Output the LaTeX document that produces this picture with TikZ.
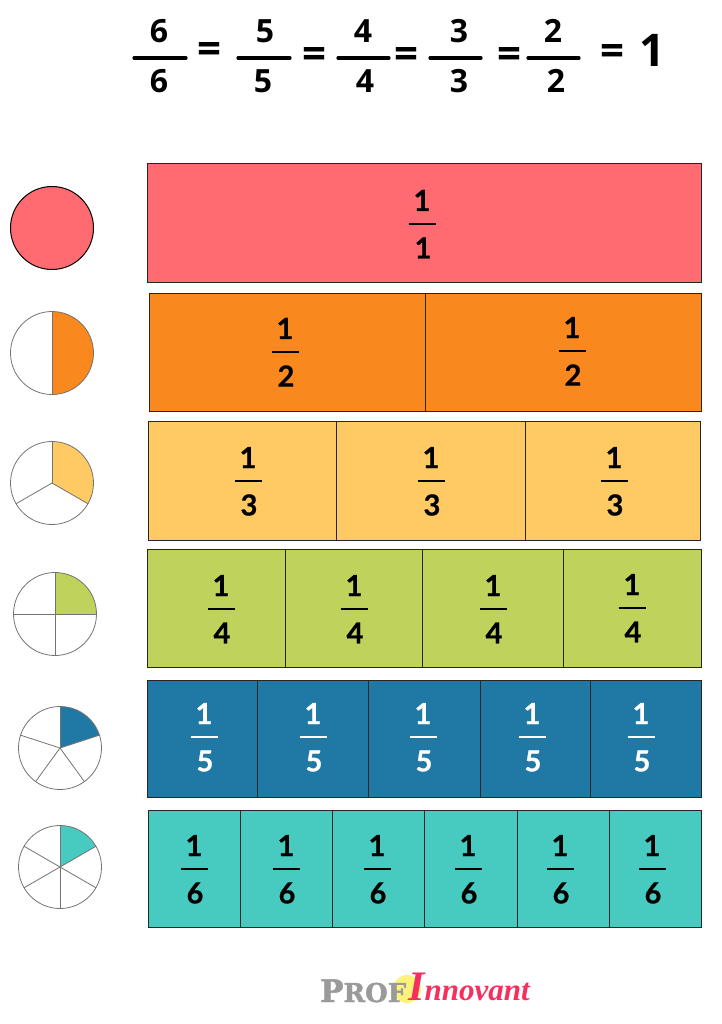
\documentclass[tikz,border=0pt]{standalone}
\usepackage{fontspec}
\setmainfont{Open Sans}
\newfontfamily\cellfont[BoldFeatures={FakeBold=0.7}]{Lato}
\newfontfamily\logosans[BoldFeatures={FakeBold=1.5}]{DejaVu Serif}
\newfontfamily\logoital{Liberation Serif}
\definecolor{redfill}{HTML}{FF6B70}
\definecolor{orangefill}{HTML}{F9881F}
\definecolor{yellowfill}{HTML}{FFC963}
\definecolor{greenfill}{HTML}{BFD25B}
\definecolor{bluefill}{HTML}{2079A4}
\definecolor{tealfill}{HTML}{47CBC1}
\definecolor{logogray}{HTML}{9A9A9A}
\definecolor{logored}{HTML}{F5305F}
\definecolor{logoyellow}{HTML}{FFF27A}
\tikzset{
  cellbox/.style={draw=black!85, line width=1pt},
  pieline/.style={draw=black!55, line width=0.8pt},
  digit/.style={font=\cellfont\fontsize{29}{32}\bfseries\selectfont, inner sep=0pt},
  bigdigit/.style={font=\fontsize{32}{36}\bfseries\selectfont, inner sep=0pt},
  eqsign/.style={font=\fontsize{42}{46}\bfseries\selectfont, inner sep=0pt},
  fracbar/.style={line width=2pt},
  topbar/.style={line width=3.2pt, line cap=round},
}
\begin{document}
\begin{tikzpicture}[x=1pt, y=-1pt]
    \useasboundingbox (0,0) rectangle (721,1024);

    % header
    \foreach \x/\xd/\xa/\xb/\d/\i in {159/159/134/186/6/a, 265/263/238/290/5/b, 363/365/338/389/4/c, 459/459/430/481/3/d, 553/556/528/579/2/e} {
      \node[bigdigit] (top\i) at (\x,31) {\d};
      \node[bigdigit] (bot\i) at (\xd,81) {\d};
      \draw[topbar] (\xa,58) -- (\xb,58);
    }
    \foreach \x/\y/\i in {209/53/a, 314/58/b, 406/58/c, 509/58/d, 612/55/e} {
      \node[eqsign] (eq\i) at (\x,\y) {=};
    }
    \node[font=\fontsize{45}{48}\bfseries\selectfont, inner sep=0pt] (one) at (652,50) {1};

    % bars
    \foreach \xa/\xb/\ya/\yb/\col in {147/701/164/282/redfill,
      149/425/293/411/orangefill, 425/701/293/411/orangefill,
      148/336/421/540/yellowfill, 336/525/421/540/yellowfill, 525/700/421/540/yellowfill,
      147/285/549/667/greenfill, 285/422/549/667/greenfill, 422/563/549/667/greenfill, 563/701/549/667/greenfill,
      147/257/680/797/bluefill, 257/368/680/797/bluefill, 368/480/680/797/bluefill, 480/590/680/797/bluefill, 590/701/680/797/bluefill,
      148/240/810/927/tealfill, 240/332/810/927/tealfill, 332/424/810/927/tealfill, 424/517/810/927/tealfill, 517/609/810/927/tealfill, 609/701/810/927/tealfill} {
      \draw[cellbox, fill=\col] (\xa,\ya) rectangle (\xb,\yb);
    }

    % fractions
    \foreach \x/\y/\d/\c/\i in {422/224/1/black/ra,
      285/352/2/black/rb, 572/351/2/black/rc,
      248/481/3/black/rd, 431/481/3/black/re, 614/481/3/black/rf,
      221/609/4/black/rg, 354/609/4/black/rh, 493/609/4/black/ri, 632/608/4/black/rj,
      204/737/5/white/rk, 313/737/5/white/rl, 423/737/5/white/rm, 532/737/5/white/rn, 641/737/5/white/ro,
      194/869/6/black/rp, 286/869/6/black/rq, 377/869/6/black/rr, 468/869/6/black/rs, 560/869/6/black/rt, 652/869/6/black/ru} {
      \node[digit, text=\c] (num\i) at (\x,\y-23.5) {1};
      \node[digit, text=\c] (den\i) at (\x+1,\y+24) {\d};
      \draw[fracbar, \c] (\x-13.5,\y) -- (\x+13.5,\y);
    }

    % circles
    \draw[fill=redfill, line width=1pt] (52,228) circle (41.5);
    \foreach \cx/\cy/\n/\col in {52/353/2/orangefill, 52/483/3/yellowfill, 55/614/4/greenfill, 60/748/5/bluefill, 60/867/6/tealfill} {
      \fill[\col] (\cx,\cy) -- (\cx,\cy-41.5) arc[start angle=-90, delta angle=360/\n, radius=41.5] -- cycle;
      \draw[pieline] (\cx,\cy) circle (41.5);
      \foreach \k in {1, ..., \n} {
        \draw[pieline] (\cx,\cy) -- ++({-90+360/\n*\k}:41.5);
      }
    }

    % logo
    \fill[logoyellow] (407,989) circle (14);
    \node[inner sep=0pt, anchor=base west, text=logogray, font=\logosans\fontsize{31}{34}\bfseries\selectfont] (logoprof) at (320,1002) {P\fontsize{26}{30}\selectfont ROF};
    \node[inner sep=0pt, anchor=base west, text=logored, font=\logoital\fontsize{31}{34}\itshape\selectfont] (logoinno) at (408,1000) {\bfseries\fontsize{42}{46}\selectfont I\fontsize{31}{34}\selectfont nnovant};
  \end{tikzpicture}
\end{document}
